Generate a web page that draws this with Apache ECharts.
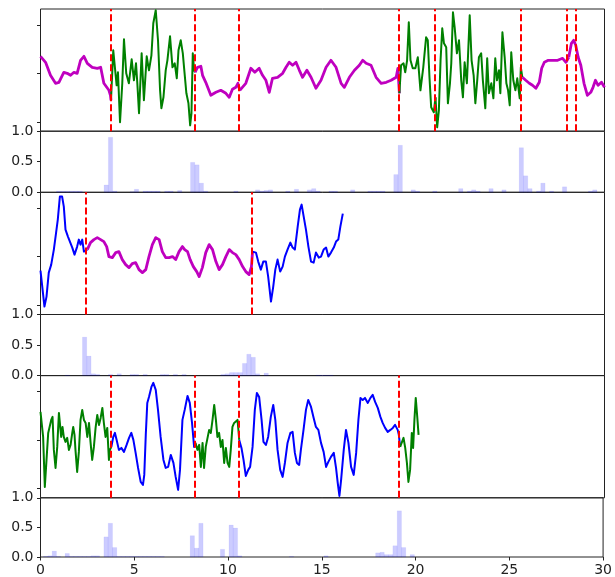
<!DOCTYPE html>
<html><head><meta charset="utf-8">
<script src="https://cdn.jsdelivr.net/npm/echarts@6/dist/echarts.min.js"></script>
<style>html,body{margin:0;padding:0;background:#fff}#c{width:615px;height:577px}</style>
</head><body><div id="c"></div>
<script>
// ---------- data ----------
// Panel 1 signal
const T1 = [0,0.27,0.53,0.8,0.98,1.24,1.42,1.6,1.78,1.95,2.13,2.31,2.49,2.75,3.02,3.2,3.37,3.64,3.72,
 3.75,3.87,3.96,4.05,4.12,4.23,4.35,4.44,4.56,4.7,4.85,4.97,5.08,5.15,5.24,5.38,5.5,5.65,5.77,5.9,6.0,6.13,6.25,6.36,6.43,6.54,6.66,6.75,6.89,7.02,7.14,7.25,7.34,7.46,7.57,7.64,7.76,7.87,7.96,8.03,8.1,8.17,
 8.22,8.35,8.53,8.62,8.79,9.06,9.33,9.59,9.86,10.04,10.21,10.39,10.5,10.6,10.66,10.92,11.19,11.4,11.63,11.81,11.99,12.17,12.34,12.61,12.88,13.06,13.23,13.41,13.59,13.77,13.94,14.17,14.39,14.65,14.92,15.19,15.45,15.72,15.99,16.16,16.43,16.7,16.96,17.14,17.32,17.58,17.85,18.12,18.39,18.65,18.92,19.01,
 19.09,19.18,19.31,19.4,19.5,19.59,19.68,19.8,19.94,20.07,20.21,20.36,20.51,20.6,20.69,20.78,20.92,21.01,21.1,21.19,21.28,21.37,21.46,21.58,21.67,21.78,21.85,21.94,22.03,22.15,22.26,22.38,22.47,22.56,22.68,22.83,22.93,23.04,23.13,23.23,23.32,23.44,23.53,23.66,23.76,23.85,23.98,24.09,24.19,24.28,24.39,24.46,24.57,24.69,24.78,24.87,24.96,25.04,25.15,25.26,25.36,25.49,25.55,
 25.63,25.81,26.0,26.17,26.35,26.53,26.66,26.8,27.01,27.24,27.51,27.77,27.95,28.1,28.24,28.36,28.47,28.6,28.74,28.91,29.09,29.27,29.39,29.52,29.66,29.84,30.0];
const Y1 = [17,11,-2,-10,-9,1,0,-2,1,0,13,17,10,6,5,6,-10,-17,-22,
 -27,23,23,-12,1,-49,-10,34,0,-10,14,-7,10,-10,-40,20,-27,17,3,18,50,63,33,-17,-35,-24,3,13,37,6,10,-5,23,33,20,5,-20,-30,-52,-40,20,3,
 1,6,7,-2,-9,-22,-19,-17,-20,-24,-16,-14,-10,-17,-17,-10,5,1,5,-2,-7,-19,-5,-4,0,6,11,8,11,3,-4,3,-4,-15,-7,6,13,6,-10,-14,-4,3,8,13,10,8,-4,-10,-9,-7,-4,5,
 -20,8,10,1,13,51,13,5,5,16,-17,6,36,33,-4,-34,-39,-24,-54,-37,13,45,30,26,-30,-10,10,61,46,20,33,-7,-24,11,-10,58,13,-2,-30,-7,16,20,-7,-35,15,-20,-10,-25,15,-7,3,-20,41,16,-10,-17,-32,21,-7,-17,-5,-25,6,
 -4,-7,-10,-12,-15,-9,5,11,13,13,13,15,11,16,30,33,28,16,8,-10,-22,-19,-14,-7,-12,-9,-14];
const CP1 = [3.73,8.2,10.55,19.07,20.99,25.57,27.97,28.45];
const COL1 = ['m','g','m','m','g','g','m','m','m'];

// Panel 2 signal
const T2 = [0,0.21,0.32,0.44,0.57,0.71,0.83,0.92,1.03,1.15,1.24,1.33,1.46,1.56,1.69,1.81,1.95,2.04,2.13,2.22,2.31,2.38,
 2.49,2.66,2.84,3.02,3.2,3.37,3.52,3.64,3.82,4.0,4.17,4.35,4.53,4.71,4.88,5.06,5.24,5.42,5.6,5.77,5.95,6.13,6.31,6.48,6.66,6.84,7.02,7.19,7.37,7.55,7.67,7.82,7.96,8.13,8.31,8.44,8.61,8.79,8.97,9.15,9.33,9.5,9.68,9.86,10.04,10.21,10.39,10.57,10.75,10.92,11.1,11.22,
 11.28,11.46,11.58,11.72,11.85,11.99,12.11,12.26,12.38,12.49,12.61,12.75,12.88,13.0,13.14,13.29,13.41,13.53,13.68,13.8,13.89,14.0,14.12,14.25,14.39,14.53,14.65,14.8,14.92,15.06,15.19,15.31,15.45,15.6,15.72,15.84,15.95,16.08];
const Y2 = [-14,-50,-40,-16,-8,7,24,37,60,60,50,27,20,19,9,2,10,17,12,17,5,4,
 7,14,17,19,17,15,10,0,-1,4,5,-3,-8,-11,-7,-6,-13,-16,-13,0,12,19,17,5,-1,-1,0,-3,5,10,7,5,-3,-10,-15,-20,-11,4,12,7,-5,-13,-8,0,7,4,2,-3,-10,-15,-18,-10,
 5,4,-5,-13,-5,-5,-20,-45,-30,-13,-3,-15,-10,0,7,14,9,7,30,47,52,40,27,10,-5,-6,4,-1,0,7,9,0,4,9,15,17,30,43];
const CP2 = [2.4,11.24];
const COL2 = ['b','m','b'];

// Panel 3 signal
const T3 = [0,0.14,0.23,0.32,0.41,0.5,0.57,0.64,0.71,0.8,0.89,0.98,1.03,1.1,1.17,1.24,1.33,1.42,1.51,1.6,1.69,1.74,1.81,1.86,1.95,2.04,2.13,2.22,2.31,2.4,2.49,2.58,2.66,2.75,2.84,2.93,3.02,3.11,3.2,3.29,3.37,3.46,3.55,3.64,3.69,
 3.77,3.87,3.96,4.05,4.17,4.3,4.44,4.58,4.71,4.83,4.94,5.06,5.19,5.33,5.45,5.52,5.6,5.68,5.77,5.9,6.0,6.13,6.25,6.39,6.54,6.66,6.79,6.93,7.07,7.19,7.32,7.42,7.55,7.67,7.82,7.94,8.06,8.17,
 8.24,8.35,8.44,8.53,8.62,8.7,8.79,8.88,8.97,9.06,9.15,9.24,9.33,9.41,9.5,9.59,9.68,9.77,9.86,9.95,10.04,10.12,10.21,10.3,10.39,10.48,10.54,
 10.57,10.69,10.8,10.92,11.05,11.15,11.28,11.4,11.51,11.63,11.76,11.86,11.99,12.11,12.25,12.38,12.49,12.61,12.75,12.88,13.0,13.14,13.29,13.41,13.53,13.64,13.76,13.85,13.99,14.12,14.24,14.39,14.53,14.65,14.78,14.92,15.06,15.19,15.31,15.45,15.6,15.72,15.81,15.9,15.99,16.13,16.25,16.38,16.52,16.66,16.79,16.91,17.02,17.14,17.26,17.41,17.55,17.67,17.8,17.94,18.08,18.2,18.33,18.47,18.61,18.74,18.86,19.0,19.06,
 19.13,19.22,19.31,19.4,19.49,19.57,19.66,19.75,19.82,19.89,19.96,20.04,20.11];
const Y3 = [28,3,-47,-20,7,8,20,23,-10,-28,-7,27,28,3,13,3,-2,2,-10,-5,7,13,5,-10,-32,-12,20,30,20,17,3,17,-2,-20,-7,12,25,15,22,32,17,3,12,-20,-10,
 -7,3,7,0,-10,-8,-12,-5,2,7,0,-13,-28,-42,-45,-35,5,37,43,53,57,50,30,3,-20,-28,-27,-15,-23,-37,-50,-30,20,30,44,37,17,-7,
 -3,-10,-5,-27,-3,-28,-7,-5,10,7,20,35,20,3,7,-7,0,-23,-8,-23,-27,-10,13,17,15,20,7,
 0,-8,-20,-36,-30,-27,-7,30,47,43,20,-2,-5,3,23,35,20,-10,-30,-37,-23,-3,7,8,-13,-23,-25,-10,10,30,40,33,22,13,10,-3,-12,-27,-22,-17,-13,-28,-43,-56,-40,-10,10,-3,-27,-35,-13,20,42,40,42,37,42,45,38,32,23,17,12,8,10,12,15,10,5,
 -7,-5,2,-8,-23,-42,-30,7,-8,20,42,23,5];
const CP3 = [3.73,8.2,10.55,19.07];
const COL3 = ['g','b','g','b','g'];

// Histograms: bin start, bin width, probabilities per bin
const HIST_START = 0.16;
const BIN_W = 0.23;
const H1 = [0,0,0,0.02,0.02,0.02,0.02,0.02,0.02,0,
 0,0,0,0,0.12,0.9,0.02,0,0,0,
 0.01,0.05,0,0.02,0.02,0.02,0.02,0,0.02,0.02,
 0,0.03,0,0,0.49,0.45,0.15,0.02,0,0,
 0,0,0,0,0.02,0,0,0,0,0.04,
 0.02,0.03,0.04,0,0,0,0.02,0,0.05,0,
 0,0.04,0.06,0.02,0,0,0.02,0.02,0,0,
 0,0.04,0,0,0,0.02,0.02,0.02,0.02,0,
 0,0.29,0.77,0,0,0.04,0.02,0,0,0,
 0.02,0,0,0,0,0,0.06,0,0.02,0.04,
 0.02,0,0,0.06,0,0,0.04,0,0,0,
 0.73,0.27,0.06,0,0.02,0.15,0,0.02,0,0,
 0.09,0,0,0,0,0,0.02,0.04,0,0];
const H2 = [0,0,0,0,0,0.01,0,0,0,0.63,
 0.32,0.03,0.02,0,0,0.02,0,0.03,0,0,
 0.02,0.02,0,0.02,0,0,0,0.02,0.02,0,
 0.02,0,0.02,0,0,0,0,0,0,0,
 0,0.02,0.03,0.05,0.05,0.05,0.2,0.35,0.3,0.03,
 0,0.04,0,0,0,0,0,0,0,0,
 0,0,0,0.01,0.01,0.01,0.01,0,0,0];
const H3 = [0.01,0.02,0.1,0.01,0,0.06,0.01,0.01,0.01,0.01,
 0.01,0.02,0.02,0,0.34,0.57,0.16,0.01,0.01,0.01,
 0.01,0.01,0.01,0.01,0.01,0.01,0.01,0.01,0,0,
 0,0,0,0,0.36,0.15,0.57,0,0,0,
 0,0.13,0,0.54,0.49,0.02,0,0,0,0,
 0,0,0,0,0,0,0,0.01,0,0,
 0,0,0,0,0,0.02,0,0,0,0,
 0,0,0,0,0,0,0,0.07,0.08,0.04,
 0.04,0.19,0.78,0.16,0,0.04,0,0,0,0];
const X_TICKS = [0,5,10,15,20,25,30];
const HIST_TICKS = [0,0.5,1.0];

// ---------- chart ----------
const COLORS = {m:'#bf00bf', g:'#008000', b:'#0000ff'};
const WIDTHS = {m:2.8, g:2, b:2};
const SIG_MIN = -57.9, SIG_MAX = 64.3, SIG_TICKS = [-48.5, 0, 48.5];
const LEFT = 40.5, WIDTH = 564;
const tops = [9, 131.2, 192.3, 314.5, 375.6, 497.8];
const hts = [122.2, 61.1, 122.2, 61.1, 122.2, 61.1];
const FONT = 'DejaVu Sans';

const grids = tops.map((t,i)=>({left:LEFT, width:WIDTH, top:t, height:hts[i], show:true, borderColor:'#222', borderWidth:1, backgroundColor:'transparent'}));
const xAxes = tops.map((t,i)=>({
  type:'value', gridIndex:i, min:0, max:30, interval:5,
  axisLine:{show:false}, splitLine:{show:false},
  axisTick:{show:i===5, length:3.5, lineStyle:{color:'#222'}},
  axisLabel:{show:i===5, fontFamily:FONT, fontSize:14, color:'#222', margin:6, customValues:X_TICKS}
}));
const yAxes = tops.map((t,i)=> i%2===0 ? ({
  type:'value', gridIndex:i, min:SIG_MIN, max:SIG_MAX,
  axisLine:{show:false}, splitLine:{show:false},
  axisTick:{show:true, length:3.5, customValues:SIG_TICKS, lineStyle:{color:'#222'}},
  axisLabel:{show:false, customValues:SIG_TICKS}
}) : ({
  type:'value', gridIndex:i, min:0, max:1, interval:0.5,
  axisLine:{show:false}, splitLine:{show:false},
  axisTick:{show:true, length:3.5, lineStyle:{color:'#222'}},
  axisLabel:{show:true, fontFamily:FONT, fontSize:14, color:'#222', margin:7, formatter:v=>v.toFixed(1), customValues:HIST_TICKS}
}));

const series = [];
function addPanel(T, Y, CP, COL, gi){
  const segs = COL.map(()=>[]);
  for(let i=0;i<T.length;i++){
    let s = 0; while(s<CP.length && T[i]>=CP[s]) s++;
    segs[s].push([T[i], Y[i]]);
  }
  for(let s=0;s<segs.length-1;s++){
    let n=s+1; while(n<segs.length && segs[n].length===0) n++;
    if(n<segs.length && segs[s].length) segs[s].push(segs[n][0]);
  }
  segs.forEach((d,s)=>{
    series.push({type:'line', xAxisIndex:gi, yAxisIndex:gi, data:d, showSymbol:false, symbol:'none',
      lineStyle:{color:COLORS[COL[s]], width:WIDTHS[COL[s]], join:'round'}, itemStyle:{color:COLORS[COL[s]]}, z:2, silent:true,
      markLine: s===0 ? {symbol:['none','none'], silent:true, z:5, animation:false,
        label:{show:false}, emphasis:{disabled:true},
        lineStyle:{color:'#ff0000', width:2, type:[7,3]},
        data: CP.map(c=>({xAxis:c}))} : undefined
    });
  });
}
function addHist(H, gi){
  const d = H.map((v,k)=>[HIST_START+k*BIN_W, HIST_START+(k+1)*BIN_W, v]).filter(r=>r[2]>0);
  series.push({type:'custom', xAxisIndex:gi, yAxisIndex:gi, data:d, silent:true,
    encode:{x:[0,1], y:2},
    renderItem:(params, api)=>{
      const p0 = api.coord([api.value(0), 0]);
      const p1 = api.coord([api.value(1), api.value(2)]);
      return {type:'rect', shape:{x:p0[0], y:p1[1], width:p1[0]-p0[0], height:p0[1]-p1[1]},
        style:{fill:'rgba(0,0,255,0.2)', stroke:'rgba(0,0,255,0.08)', lineWidth:0.6}};
    }});
}
addPanel(T1,Y1,CP1,COL1,0); addHist(H1,1);
addPanel(T2,Y2,CP2,COL2,2); addHist(H2,3);
addPanel(T3,Y3,CP3,COL3,4); addHist(H3,5);

const chart = echarts.init(document.getElementById('c'), null, {renderer:'canvas'});
chart.setOption({animation:false, backgroundColor:'#fff', grid:grids, xAxis:xAxes, yAxis:yAxes, series:series});
</script></body></html>
